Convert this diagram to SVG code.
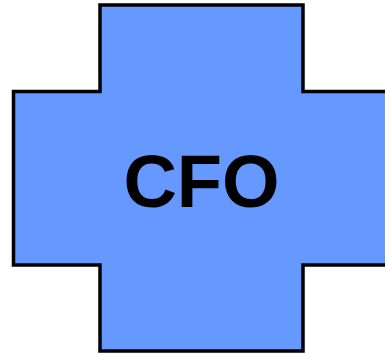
<svg xmlns="http://www.w3.org/2000/svg" width="385" height="354" viewBox="0 0 385 354">
<style>
.shape{fill:#6699ff;stroke:#000;stroke-width:3.5;stroke-linejoin:miter}
.lbl{font-family:"Liberation Sans",Arial,sans-serif;font-weight:bold;font-size:74px;fill:#000;text-anchor:middle}
</style>
<g id="cfo">
<polygon class="shape" points="100,5 303,5 303,91.5 390,91.5 390,265 303,265 303,351 100,351 100,265 13.5,265 13.5,91.5 100,91.5"/>
<text class="lbl" x="201.5" y="207">CFO</text>
</g>
<g id="connectors"/>
</svg>
